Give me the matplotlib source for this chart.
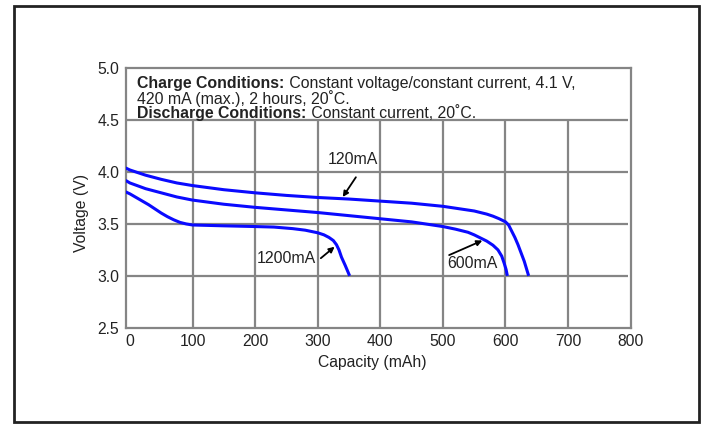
import matplotlib.pyplot as plt
from matplotlib.patches import Rectangle

plt.rcParams['font.family'] = ['Liberation Sans', 'DejaVu Sans']

# discharge curves (capacity in mAh, voltage in V)
cap_120 = [-7, 0, 25, 50, 75, 100, 150, 200, 250, 300, 350, 400, 450, 500, 550, 560, 570, 580, 590,
           600, 605, 610, 615, 620, 625, 630, 637]
volt_120 = [4.04, 4.02, 3.97, 3.93, 3.895, 3.87, 3.83, 3.80, 3.775, 3.755, 3.74, 3.72, 3.70, 3.67,
            3.625, 3.61, 3.595, 3.575, 3.55, 3.52, 3.49, 3.43, 3.37, 3.30, 3.22, 3.14, 3.0]

cap_600 = [-7, 0, 25, 50, 75, 100, 150, 200, 250, 300, 350, 400, 450, 500, 520, 540, 550, 560, 570,
           580, 588, 594, 598, 601, 603]
volt_600 = [3.92, 3.895, 3.84, 3.80, 3.76, 3.73, 3.69, 3.66, 3.635, 3.61, 3.58, 3.55, 3.52, 3.475,
            3.45, 3.42, 3.395, 3.365, 3.335, 3.295, 3.25, 3.19, 3.12, 3.06, 3.0]

cap_1200 = [-7, 0, 10, 20, 30, 40, 50, 60, 70, 80, 90, 100, 150, 200, 230, 260, 280, 300, 310, 318,
            325, 330, 334, 338, 344, 351]
volt_1200 = [3.81, 3.79, 3.755, 3.72, 3.685, 3.645, 3.605, 3.57, 3.54, 3.515, 3.50, 3.49, 3.482,
             3.475, 3.47, 3.455, 3.44, 3.415, 3.395, 3.37, 3.34, 3.30, 3.25, 3.18, 3.10, 3.0]

x_ticks = [0, 100, 200, 300, 400, 500, 600, 700, 800]
y_ticks = [2.5, 3.0, 3.5, 4.0, 4.5, 5.0]
v_grid = [100, 200, 300, 400, 500, 600, 700]
h_grid = [3.0, 3.5, 4.0, 4.5]

fig = plt.figure(figsize=(7.06, 4.25), dpi=100)
ax = fig.add_axes([0.1778, 0.2289, 0.7155, 0.6104])

grid_c = '#858585'
ax.vlines(v_grid, 2.5, 4.5, colors=grid_c, lw=1.6, zorder=1)
ax.hlines(h_grid, -7, 795, colors=grid_c, lw=1.6, zorder=1)

blue = '#0a0aff'
for c, v in [(cap_120, volt_120), (cap_600, volt_600), (cap_1200, volt_1200)]:
    ax.plot(c, v, color=blue, lw=2.2, solid_capstyle='butt', solid_joinstyle='round', zorder=3)

ax.set_xlim(-7, 795)
ax.set_ylim(2.5, 5.0)
ax.set_xticks(x_ticks)
ax.set_yticks(y_ticks)
ax.set_xticklabels([str(t) for t in x_ticks])
ax.set_yticklabels(['%.1f' % t for t in y_ticks])
ax.tick_params(length=0, labelsize=11.3, pad=4.5, colors='#222222')
for s in ax.spines.values():
    s.set_color(grid_c)
    s.set_linewidth(1.6)

ax.set_xlabel('Capacity (mAh)', fontsize=11.3, color='#222222')
ax.set_ylabel('Voltage (V)', fontsize=11.3, color='#222222')
ax.xaxis.set_label_coords(0.489, -0.136)
ax.xaxis.label.set_va('center')
ax.yaxis.set_label_coords(-0.088, 0.442)
ax.yaxis.label.set_va('center')

# condition notes, bold heading then plain text on the same line
fs = 11.4
notes = [('Charge Conditions:', ' Constant voltage/constant current, 4.1 V,', 4.81),
         ('', '420 mA (max.), 2 hours, 20˚C.', 4.657),
         ('Discharge Conditions:', ' Constant current, 20˚C.', 4.517)]
for head, rest, yv in notes:
    if head:
        t = ax.text(12, yv, head, fontsize=fs, fontweight='bold', va='baseline', color='#222222')
        ax.annotate(rest, xy=(1, 0), xycoords=t, va='bottom', ha='left', fontsize=fs, color='#222222')
    else:
        ax.text(12, yv, rest, fontsize=fs, va='baseline', color='#222222')

arrow = dict(arrowstyle='-|>', color='black', lw=1.3, mutation_scale=8, shrinkA=0, shrinkB=0)
ax.text(356, 4.12, '120mA', fontsize=fs, ha='center', va='center', color='#222222')
ax.annotate('', xy=(340, 3.76), xytext=(361, 3.95), arrowprops=arrow)
ax.text(250, 3.17, '1200mA', fontsize=fs, ha='center', va='center', color='#222222')
ax.annotate('', xy=(327, 3.28), xytext=(305, 3.17), arrowprops=arrow)
ax.text(547, 3.12, '600mA', fontsize=fs, ha='center', va='center', color='#222222')
ax.annotate('', xy=(563, 3.34), xytext=(510, 3.2), arrowprops=arrow)

# outer frame around the whole picture
fig.patches.append(Rectangle((13.5 / 706, 1 - 422 / 425), (699 - 13.5) / 706, (422 - 5.5) / 425,
                             transform=fig.transFigure, fill=False, ec='#222222', lw=2))

fig.savefig('out.png', dpi=100)
